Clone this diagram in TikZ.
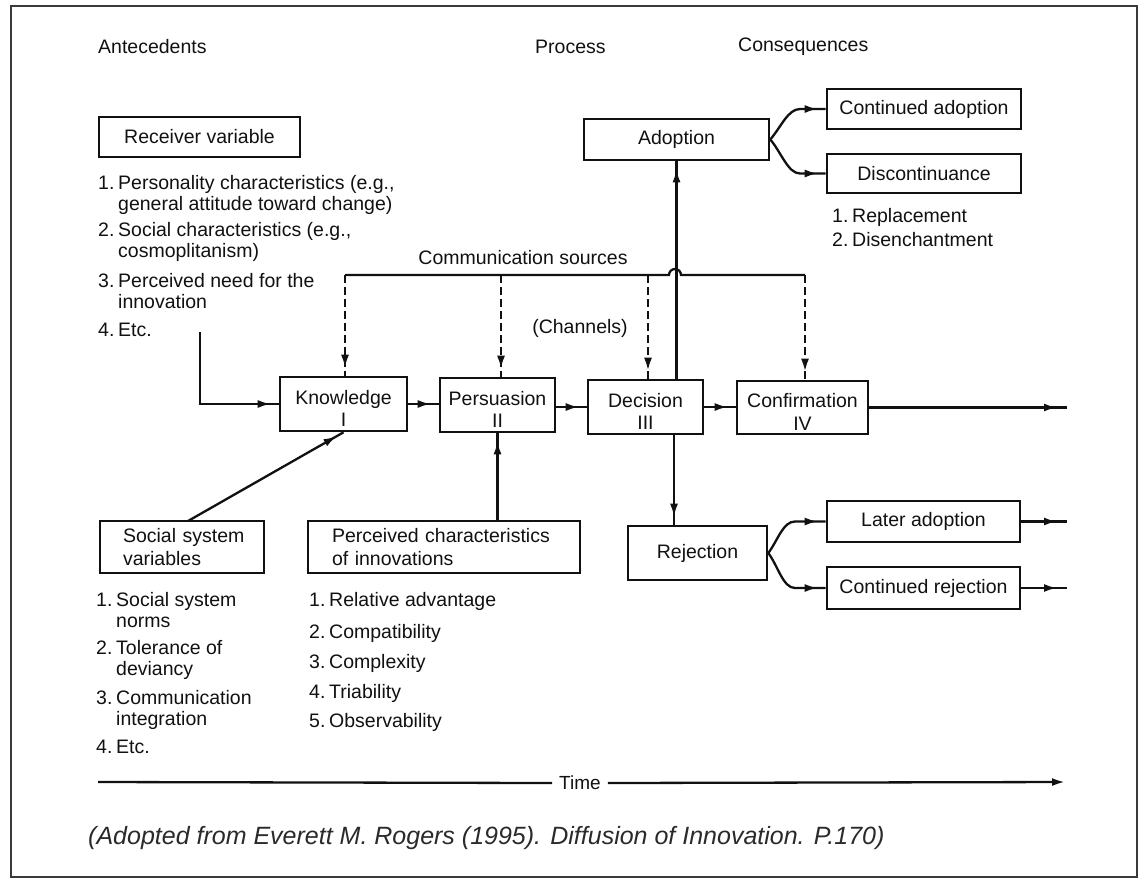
\documentclass[tikz,border=0pt]{standalone}
\usepackage{fontspec}
\setmainfont{Liberation Sans}
\usetikzlibrary{arrows.meta,decorations.markings}
\definecolor{ink}{HTML}{111111}
\definecolor{framec}{HTML}{3a3a3a}
\definecolor{capc}{HTML}{2a2a2a}
\newcommand\bodyfont{\fontsize{19.5}{21}\selectfont}
\newcommand\boxfont{\fontsize{19.5}{22.5}\selectfont}
\newcommand\itm[2]{\makebox[20pt][l]{#1}\begin{tabular}[t]{@{}l@{}}#2\end{tabular}}
\newcommand\twol[2]{\begin{tabular}[t]{@{}c@{}}#1\\#2\end{tabular}}
\tikzset{
  boxline/.style={draw=ink, line width=2.6pt, inner sep=0pt, font=\boxfont, text=ink},
  box/.style={boxline, align=center},
  pbox/.style={boxline, text height=20pt, text depth=20pt},
  lbl/.style={inner sep=0pt, font=\bodyfont, text=ink},
  conn/.style={draw=ink, line width=2.3pt},
  arr/.style={conn, postaction={decorate}, decoration={markings,
     mark=at position -8pt with {\arrow{Latex[length=13pt,width=8pt]}}}},
  farr/.style={conn, postaction={decorate}, decoration={markings,
     mark=at position -10pt with {\arrow{Latex[length=13pt,width=8pt]}}}},
  darr/.style={arr, dash pattern=on 8pt off 4pt},
}
\begin{document}
\begin{tikzpicture}[x=1pt,y=-1pt]
\useasboundingbox (0,0) rectangle (1140,879);
\fill[white] (0,0) rectangle (1140,879);
\draw[framec, line width=2pt] (11,6) rectangle (1137,877);

% headers
\node[lbl, anchor=west] (hant) at (98,47) {Antecedents};
\node[lbl, anchor=west] (hproc) at (535,47) {Process};
\node[lbl, anchor=west] (hcons) at (738,47) {Consequences};

% receiver variable
\node[box, minimum width=201pt, minimum height=40pt] (recv) at (199.5,137) {Receiver variable};
\node[lbl, anchor=base west] (r1) at (98,189) {\itm{1.}{Personality characteristics (e.g.,\\general attitude toward change)}};
\node[lbl, anchor=base west] (r2) at (98,236) {\itm{2.}{Social characteristics (e.g.,\\cosmoplitanism)}};
\node[lbl, anchor=base west] (r3) at (98,287) {\itm{3.}{Perceived need for the\\innovation}};
\node[lbl, anchor=base west] (r4) at (98,336) {\itm{4.}{Etc.}};

% process boxes
\node[pbox, minimum width=127pt, minimum height=54pt] (know) at (343.5,404) {\twol{Knowledge}{I}};
\node[pbox, minimum width=115pt, minimum height=54pt] (pers) at (497.5,405) {\twol{Persuasion}{II}};
\node[pbox, minimum width=115pt, minimum height=54pt] (dec) at (645.5,407) {\twol{Decision}{III}};
\node[pbox, minimum width=131pt, minimum height=53pt] (conf) at (802.5,407.5) {\twol{Confirmation}{IV}};

% consequences
\node[box, minimum width=185pt, minimum height=41pt] (adopt) at (676.5,139.5) {Adoption};
\node[box, minimum width=194pt, minimum height=40pt] (contad) at (924,109) {Continued adoption};
\node[box, minimum width=194pt, minimum height=39pt] (discont) at (924,173.5) {Discontinuance};
\node[lbl, anchor=base west] (d1) at (832,222) {\itm{1.}{Replacement}};
\node[lbl, anchor=base west] (d2) at (832,246) {\itm{2.}{Disenchantment}};
\node[box, minimum width=139pt, minimum height=54pt] (rej) at (697.5,553) {Rejection};
\node[box, minimum width=193pt, minimum height=41pt] (later) at (923.5,521.5) {Later adoption};
\node[box, minimum width=193pt, minimum height=42pt] (contrej) at (923.5,588) {Continued rejection};

% lower antecedents
\node[box, minimum width=164pt, minimum height=52pt, align=left, text width=136pt, inner xsep=14pt] (social) at (182,547) {\hspace*{9pt}Social system\\\hspace*{9pt}variables};
\node[lbl, anchor=base west] (s1) at (96,606) {\itm{1.}{Social system\\norms}};
\node[lbl, anchor=base west] (s2) at (96,654) {\itm{2.}{Tolerance of\\deviancy}};
\node[lbl, anchor=base west] (s3) at (96,704) {\itm{3.}{Communication\\integration}};
\node[lbl, anchor=base west] (s4) at (96,753) {\itm{4.}{Etc.}};

\node[box, minimum width=272pt, minimum height=52pt, align=left, text width=232pt, inner xsep=20pt] (perc) at (444,547) {\hspace*{4pt}Perceived characteristics\\\hspace*{4pt}of innovations};
\node[lbl, anchor=base west] (p1) at (309,606) {\itm{1.}{Relative advantage}};
\node[lbl, anchor=base west] (p2) at (309,638) {\itm{2.}{Compatibility}};
\node[lbl, anchor=base west] (p3) at (309,668) {\itm{3.}{Complexity}};
\node[lbl, anchor=base west] (p4) at (309,698) {\itm{4.}{Triability}};
\node[lbl, anchor=base west] (p5) at (309,727) {\itm{5.}{Observability}};

% communication sources
\node[lbl] (comm) at (523,258) {Communication sources};
\node[lbl] (chan) at (580,328) {(Channels)};
\coordinate (c1) at (345,275);
\coordinate (c2) at (501,275);
\coordinate (c3) at (648,275);
\coordinate (c4) at (805,275);
\coordinate (hopa) at (669,275);
\draw[conn] (c1) -- (hopa) arc[start angle=180, end angle=0, radius=6pt] -- (c4);
\draw[darr] (c1) -- (c1 |- know.north);
\draw[darr] (c2) -- (c2 |- pers.north);
\draw[darr] (c3) -- (c3 |- dec.north);
\draw[darr] (c4) -- (c4 |- conf.north);

% main flow
\coordinate (recvout) at (200,332);
\draw[arr] (recvout) |- (know.west);
\draw[arr] (know.east) -- (pers.west |- know.east);
\draw[arr] (pers.east |- dec.west) -- (dec.west);
\draw[arr] (dec.east) -- (conf.west |- dec.east);
\draw[farr] (conf.east) -- (1067,407.5);

% decision up/down
\draw[arr] (adopt.south |- dec.north) -- (adopt.south);
\coordinate (decdown) at (674,434);
\draw[arr] (decdown) -- (decdown |- rej.north);

% forks
\draw[arr] (adopt.east) .. controls (781,127) and (788,109) .. (800,109) -- (contad.west);
\draw[arr] (adopt.east) .. controls (781,152) and (788,173.5) .. (800,173.5) -- (discont.west);
\draw[arr] (rej.east) .. controls (778,540) and (783,521.5) .. (795,521.5) -- (later.west);
\draw[arr] (rej.east) .. controls (778,566) and (783,588) .. (795,588) -- (contrej.west);
\draw[farr] (later.east) -- (1067,521.5);
\draw[farr] (contrej.east) -- (1067,588);

% social / perceived
\coordinate (socout) at (188,521);
\draw[arr] (socout) -- (know.south);
\draw[arr] (pers.south |- perc.north) -- (pers.south);

% time
\node[lbl, inner xsep=7pt, font=\fontsize{19}{22}\selectfont] (time) at (580,783) {Time};
\coordinate (tstart) at (98,782);
\coordinate (tend) at (1065,782);
\draw[conn] (tstart) -- (time.west);
\draw[conn, -{Latex[length=13pt,width=8pt]}] (time.east) -- (tend);

% caption
\node[inner sep=0pt, anchor=west, text=capc, font=\fontsize{25}{29}\selectfont\itshape] (cap) at (88,838) {(Adopted from Everett M. Rogers (1995). Diffusion of Innovation. P.170)};
\end{tikzpicture}
\end{document}
